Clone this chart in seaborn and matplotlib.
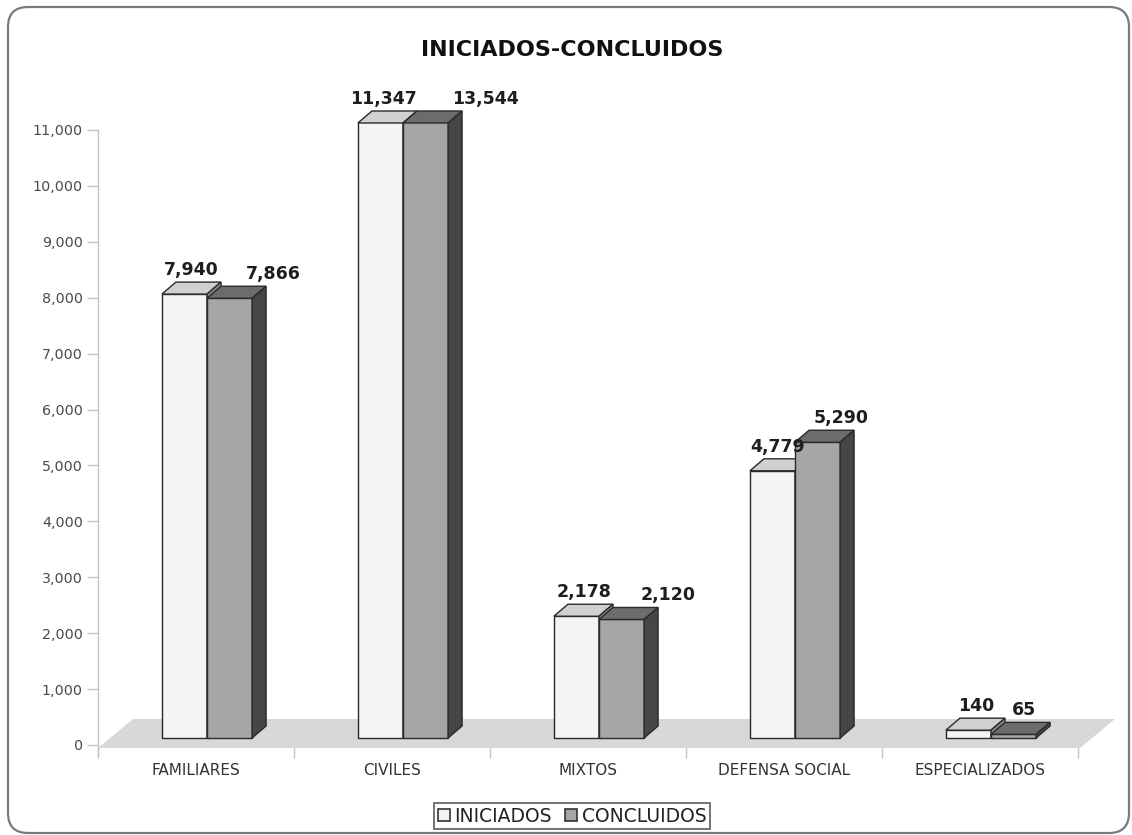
import matplotlib
matplotlib.use("Agg")
import matplotlib.pyplot as plt
import matplotlib.transforms as mtransforms
from matplotlib.patches import Polygon, Rectangle, FancyBboxPatch, Patch
import numpy as np
import pandas as pd
import seaborn as sns

# ---- data -------------------------------------------------------------
categorias = ["FAMILIARES", "CIVILES", "MIXTOS", "DEFENSA SOCIAL", "ESPECIALIZADOS"]
series = ["INICIADOS", "CONCLUIDOS"]
iniciados = [7940, 11347, 2178, 4779, 140]
concluidos = [7866, 13544, 2120, 5290, 65]
yticks = list(range(0, 11001, 1000))

# ---- styling ------------------------------------------------------------
sns.set_style("white")
plt.rcParams["font.family"] = ["DejaVu Sans"]

front_col = {"INICIADOS": "#f4f4f4", "CONCLUIDOS": "#a6a6a6"}
top_col = {"INICIADOS": "#d0d0d0", "CONCLUIDOS": "#6c6c6c"}
side_col = {"INICIADOS": "#8c8c8c", "CONCLUIDOS": "#464646"}
edge = "#2a2a2a"
axis_gray = "#c4c4c4"

W, H, DPI = 1132, 835, 100
fig = plt.figure(figsize=(W / DPI, H / DPI), dpi=DPI)

# plot area: x from ~100px to 1080px, value 0 at 745px from top, 11,000 at 130px
y0_px = H - 745
scale = (745 - 130) / 11000.0           # px per unit
ax_bottom_px, ax_top_px = 60, 760
ax = fig.add_axes([98 / W, ax_bottom_px / H, 980 / W, (ax_top_px - ax_bottom_px) / H])
ax.set_xlim(-0.5, 4.5)
ax.set_ylim(-(y0_px - ax_bottom_px) / scale, (ax_top_px - y0_px) / scale)
ax.patch.set_alpha(0)

px_x = 980 / 5.0        # px per category unit
def ux(px):
    return px / px_x
def uy(px):
    return px / scale

# ---- floor --------------------------------------------------------------
floor = Polygon([(-0.5, -uy(3)), (4.5 + ux(2), -uy(3)),
                 (4.5 + ux(37), uy(26)), (-0.5 + ux(35), uy(26))],
                closed=True, facecolor="#d8d8d8", edgecolor="none", zorder=1,
                clip_on=False)
ax.add_patch(floor)

# ---- bars ---------------------------------------------------------------
df = pd.DataFrame({
    "categoria": categorias * 2,
    "serie": [series[0]] * len(categorias) + [series[1]] * len(categorias),
    "valor": iniciados + concluidos,
})
sns.barplot(data=df, x="categoria", y="valor", hue="serie", order=categorias,
            hue_order=series, palette=front_col, saturation=1, width=0.46,
            errorbar=None, edgecolor=edge, linewidth=1.0, legend=False, ax=ax)

# bars sit a little behind the axis plane
bar_shift = mtransforms.ScaledTranslation(11 / DPI, 7 / DPI, fig.dpi_scale_trans)
bar_trans = ax.transData + bar_shift
cap = 11000
clip_rect = Rectangle((-1, -2000), 7, cap + 2000, transform=bar_trans)

depth_x, depth_y = ux(14), uy(12)
values = {"INICIADOS": iniciados, "CONCLUIDOS": concluidos}
nudge = {"INICIADOS": [7, 3, 8, 5, 8], "CONCLUIDOS": [44, 60, 47, 24, 10]}

for k, (serie, cont) in enumerate(zip(series, ax.containers)):
    z = 3 + 2 * k
    for i, bar in enumerate(cont.patches):
        v = values[serie][i]
        bar.set_transform(bar_trans)
        bar.set_clip_path(clip_rect)
        bar.set_zorder(z)
        x0 = bar.get_x()
        x1 = x0 + bar.get_width()
        t = min(v, cap)
        top = Polygon([(x0, t), (x1, t), (x1 + depth_x, t + depth_y), (x0 + depth_x, t + depth_y)],
                      closed=True, facecolor=top_col[serie], edgecolor=edge, lw=1.0,
                      transform=bar_trans, zorder=z + 0.5)
        side = Polygon([(x1, 0), (x1, t), (x1 + depth_x, t + depth_y), (x1 + depth_x, depth_y)],
                       closed=True, facecolor=side_col[serie], edgecolor=edge, lw=1.0,
                       transform=bar_trans, zorder=z + 0.5)
        ax.add_patch(top)
        ax.add_patch(side)
        cx = x0 + bar.get_width() / 2
        ax.annotate(f"{v:,}", xy=(cx, t), xycoords=bar_trans,
                    xytext=(nudge[serie][i] * 72 / DPI, 24 * 72 / DPI),
                    textcoords="offset points", ha="center", va="center",
                    fontsize=12.5, fontweight="bold", color="#1e1e1e", zorder=10,
                    annotation_clip=False)

# ---- axes ---------------------------------------------------------------
for s in ["top", "right"]:
    ax.spines[s].set_visible(False)
ax.spines["bottom"].set_visible(False)
ax.spines["bottom"].set_position(("data", -uy(3)))
ax.spines["left"].set_color(axis_gray)
ax.spines["left"].set_linewidth(1.0)
ax.spines["left"].set_bounds(-uy(10), cap)

ax.set_yticks(yticks)
ax.set_yticklabels([f"{t:,}" for t in yticks])
ax.tick_params(axis="y", left=True, length=8, width=1, color=axis_gray, pad=3,
               labelsize=10.3, labelcolor="#4a4a4a")

ax.set_xticks(range(len(categorias)))
ax.set_xticklabels(categorias)
ax.set_xticks(np.arange(-0.5, len(categorias), 1.0), minor=True)
ax.tick_params(axis="x", which="major", bottom=True, length=0, pad=11,
               labelsize=11, labelcolor="#333333")
ax.tick_params(axis="x", which="minor", bottom=True, length=7, width=1, color=axis_gray)
ax.set_xlabel("")
ax.set_ylabel("")

# ---- title --------------------------------------------------------------
fig.text(572 / W, 1 - 50 / H, "INICIADOS-CONCLUIDOS", ha="center", va="center",
         fontsize=16, fontweight="bold", color="#111111")

# ---- legend -------------------------------------------------------------
handles = [Patch(facecolor=front_col[s], edgecolor="#333333", lw=1.2, label=s) for s in series]
leg = fig.legend(handles=handles, loc="center", bbox_to_anchor=(572 / W, 1 - 816 / H),
                 ncol=2, fontsize=13.5, frameon=True, fancybox=False,
                 handlelength=0.65, handleheight=0.65, handletextpad=0.25,
                 columnspacing=0.7, borderpad=0.2, borderaxespad=0)
leg.get_frame().set_edgecolor("#333333")
leg.get_frame().set_linewidth(1.2)
for txt in leg.get_texts():
    txt.set_color("#222222")

# ---- rounded outer frame --------------------------------------------------
frame = FancyBboxPatch((8 / DPI, 2 / DPI), (1129 - 8) / DPI, (828 - 2) / DPI,
                       boxstyle="round,pad=0,rounding_size=0.2",
                       transform=fig.dpi_scale_trans, facecolor="none",
                       edgecolor="#7a7a7a", lw=1.6, zorder=0)
fig.add_artist(frame)

fig.savefig("out.png", dpi=DPI, facecolor="white")
